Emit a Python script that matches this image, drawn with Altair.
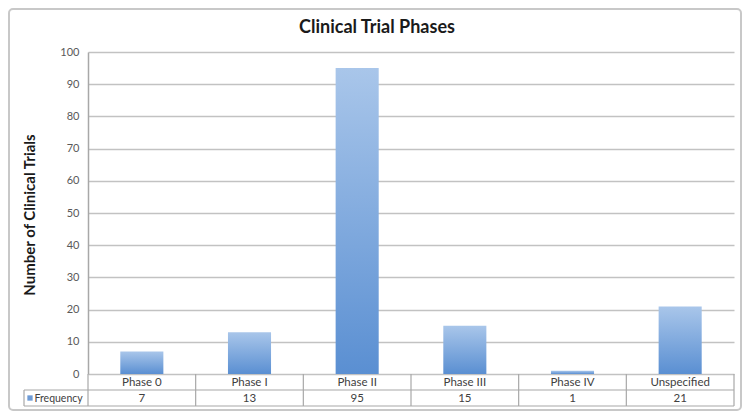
import altair as alt
import pandas as pd

# ---- data ----
phases = ["Phase 0", "Phase I", "Phase II", "Phase III", "Phase IV", "Unspecified"]
freq = [7, 13, 95, 15, 1, 21]
y_ticks = [0, 10, 20, 30, 40, 50, 60, 70, 80, 90, 100]
title_text = "Clinical Trial Phases"
y_title = "Number of Clinical Trials"
series_name = "Frequency"

df = pd.DataFrame({"phase": phases, "freq": freq})
one = pd.DataFrame({"k": [0]})

# ---- layout (plot-area pixels) ----
W, H = 646, 322
ROW = 16
FONT = "Lato"
GRID = "#C2C2C2"
LINE = "#A8A8A8"
TXT = "#404040"

xs = alt.Scale(domain=phases, paddingInner=0, paddingOuter=0)
X = alt.X("phase:N", sort=phases, scale=xs, axis=None)

bars = alt.Chart(df).mark_bar(
    width={"band": 0.4},
    color={
        "gradient": "linear",
        "x1": 0, "y1": 0, "x2": 0, "y2": 1,
        "stops": [
            {"offset": 0, "color": "#A9C6EA"},
            {"offset": 1, "color": "#5A8FD2"},
        ],
    },
).encode(
    x=X,
    y=alt.Y(
        "freq:Q",
        scale=alt.Scale(domain=[0, 100], nice=False),
        axis=alt.Axis(
            values=y_ticks,
            grid=True,
            gridColor=GRID,
            gridWidth=1.6,
            domainColor=LINE,
            domainWidth=1.5,
            ticks=False,
            labelFont=FONT,
            labelFontSize=11,
            labelColor="#595959",
            labelPadding=9,
            title=None,
        ),
    ),
)

cat_text = alt.Chart(df).mark_text(
    font=FONT, fontSize=11.5, color=TXT, baseline="middle"
).encode(x=X, y=alt.value(H + ROW / 2 + 0.5), text="phase:N")

val_text = alt.Chart(df).mark_text(
    font=FONT, fontSize=11.5, color=TXT, baseline="middle"
).encode(x=X, y=alt.value(H + ROW * 1.5 + 0.5), text="freq:Q")

vlines = alt.Chart(df).mark_rule(color=LINE, strokeWidth=1.2).encode(
    x=alt.X("phase:N", sort=phases, scale=xs, axis=None, bandPosition=0),
    y=alt.value(H),
    y2=alt.value(H + 2 * ROW),
)

right_line = alt.Chart(one).mark_rule(color=LINE, strokeWidth=1.2).encode(
    x=alt.value(W), y=alt.value(H), y2=alt.value(H + 2 * ROW)
)
row_div = alt.Chart(one).mark_rule(color=LINE, strokeWidth=1.2).encode(
    x=alt.value(-64), x2=alt.value(W), y=alt.value(H + ROW)
)
row_bot = alt.Chart(one).mark_rule(color=LINE, strokeWidth=1.2).encode(
    x=alt.value(-64), x2=alt.value(W), y=alt.value(H + 2 * ROW)
)
leg_left = alt.Chart(one).mark_rule(color=LINE, strokeWidth=1.2).encode(
    x=alt.value(-64), y=alt.value(H + ROW), y2=alt.value(H + 2 * ROW)
)
leg_sq = alt.Chart(one).mark_square(size=28, color="#6E9BD6", opacity=1).encode(
    x=alt.value(-58), y=alt.value(H + ROW * 1.5)
)
leg_txt = alt.Chart(one).mark_text(
    font=FONT, fontSize=10.5, color=TXT, align="left", baseline="middle", text=series_name
).encode(x=alt.value(-53.5), y=alt.value(H + ROW * 1.5 + 0.5))

title = alt.Chart(one).mark_text(
    font=FONT, fontSize=18, fontWeight="bold", color="#1a1a1a",
    align="center", baseline="middle", text=title_text
).encode(x=alt.value(289), y=alt.value(-24))

ytitle = alt.Chart(one).mark_text(
    font=FONT, fontSize=15, fontWeight="bold", color="#1a1a1a",
    align="center", baseline="middle", angle=270, text=y_title
).encode(x=alt.value(-58), y=alt.value(163))

frame = alt.Chart(one).mark_rect(
    fillOpacity=0, stroke="#C8C8C8", strokeWidth=2, cornerRadius=4
).encode(x=alt.value(-79), x2=alt.value(653), y=alt.value(-43), y2=alt.value(358))

chart = alt.layer(
    frame, bars, vlines, right_line, row_div, row_bot, leg_left,
    cat_text, val_text, leg_sq, leg_txt, title, ytitle
).properties(
    width=W,
    height=H,
    padding={"left": 80, "top": 44, "right": 8, "bottom": 37},
    autosize=alt.AutoSizeParams(type="none"),
    background="white",
).configure_view(strokeWidth=0)

chart.save("out.html", embed_options={"renderer": "svg", "actions": False})
